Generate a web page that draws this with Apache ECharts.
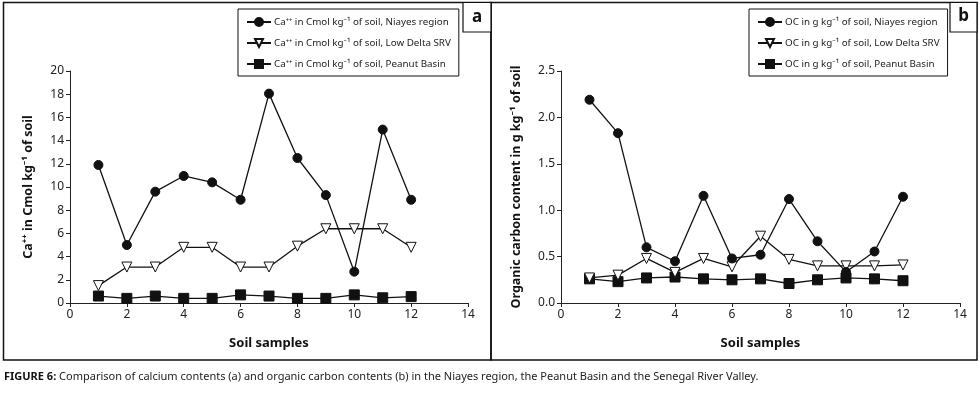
<!DOCTYPE html>
<html>
<head>
<meta charset="utf-8">
<script src="https://cdn.jsdelivr.net/npm/echarts@6/dist/echarts.min.js"></script>
<style>
  html, body { margin: 0; padding: 0; background: #fff; }
  #chart { width: 980px; height: 395px; }
</style>
</head>
<body>
<div id="chart"></div>
<script>
// soil sample numbers
const samples = [1, 2, 3, 4, 5, 6, 7, 8, 9, 10, 11, 12]

// (a) calcium, Cmol/kg
const caNiayes = [11.9, 5.0, 9.6, 10.95, 10.4, 8.9, 18.05, 12.5, 9.3, 2.7, 14.95, 8.9]
const caLowDelta = [1.5, 3.1, 3.1, 4.8, 4.8, 3.1, 3.1, 4.9, 6.4, 6.4, 6.4, 4.8]
const caPeanut = [0.6, 0.4, 0.6, 0.4, 0.4, 0.7, 0.6, 0.4, 0.4, 0.7, 0.45, 0.55]

// (b) organic carbon, g/kg
const ocNiayes = [2.19, 1.83, 0.6, 0.45, 1.155, 0.48, 0.52, 1.12, 0.665, 0.335, 0.555, 1.145]
const ocLowDelta = [0.27, 0.3, 0.48, 0.33, 0.48, 0.39, 0.72, 0.47, 0.4, 0.4, 0.4, 0.41]
const ocPeanut = [0.26, 0.23, 0.27, 0.28, 0.26, 0.25, 0.26, 0.21, 0.25, 0.27, 0.26, 0.24]

const xTicks = [0, 2, 4, 6, 8, 10, 12, 14]

const caNames = [
  'Ca\u207A\u207A in Cmol kg\u207B\u00B9 of soil, Niayes region',
  'Ca\u207A\u207A in Cmol kg\u207B\u00B9 of soil, Low Delta SRV',
  'Ca\u207A\u207A in Cmol kg\u207B\u00B9 of soil, Peanut Basin',
]
const ocNames = [
  'OC in g kg\u207B\u00B9 of soil, Niayes region',
  'OC in g kg\u207B\u00B9 of soil, Low Delta SRV',
  'OC in g kg\u207B\u00B9 of soil, Peanut Basin',
]

const FONT = "'Noto Sans', 'Liberation Sans', sans-serif"

const pairs = arr => samples.map((s, i) => [s, arr[i]])

const styles = [
  { symbol: 'circle', symbolSize: 9, symbolRotate: 0, itemStyle: { color: '#111', borderColor: '#111', borderWidth: 1 } },
  { symbol: 'triangle', symbolSize: 10, symbolRotate: 180, itemStyle: { color: '#fff', borderColor: '#111', borderWidth: 1 } },
  { symbol: 'rect', symbolSize: 10, symbolRotate: 0, itemStyle: { color: '#111', borderColor: '#111', borderWidth: 1 } },
]

function makeSeries(names, datas, idx) {
  return datas.map((d, i) => ({
    name: names[i],
    type: 'line',
    xAxisIndex: idx,
    yAxisIndex: idx,
    data: pairs(d),
    symbol: styles[i].symbol,
    symbolSize: styles[i].symbolSize,
    symbolRotate: styles[i].symbolRotate,
    showAllSymbol: true,
    lineStyle: { color: '#111', width: 1.3 },
    itemStyle: styles[i].itemStyle,
    z: 3 - i,
    animation: false,
  }))
}

function xAxisOpt(idx) {
  return {
    type: 'value',
    gridIndex: idx,
    min: 0,
    max: 14,
    interval: 2,
    splitLine: { show: false },
    axisLine: { lineStyle: { color: '#222', width: 1 } },
    axisTick: { lineStyle: { color: '#222' }, length: 4 },
    axisLabel: {
      color: '#222', fontSize: 12, fontFamily: FONT, margin: 6,
      formatter: v => (xTicks.includes(v) ? String(v) : ''),
    },
    name: 'Soil samples',
    nameLocation: 'middle',
    nameGap: 34,
    nameTextStyle: { fontSize: 13, fontWeight: 'bold', color: '#111', fontFamily: FONT },
  }
}

function yAxisOpt(idx, max, interval, name, fmt) {
  return {
    type: 'value',
    gridIndex: idx,
    min: 0,
    max: max,
    interval: interval,
    splitLine: { show: false },
    axisLine: { show: true, lineStyle: { color: '#222', width: 1 } },
    axisTick: { show: true, lineStyle: { color: '#222' }, length: 4 },
    axisLabel: { color: '#222', fontSize: 12, fontFamily: FONT, margin: 6, formatter: fmt },
    name: name,
    nameLocation: 'middle',
    nameRotate: 90,
    nameGap: idx === 0 ? 35 : 38,
    nameTextStyle: { fontSize: 12.5, fontWeight: 'bold', color: '#111', fontFamily: FONT },
  }
}

function legendOpt(names, left, fs) {
  return {
    data: names,
    orient: 'vertical',
    left: left,
    top: 9,
    padding: [8, 8, 7, 8],
    itemGap: 11,
    itemWidth: 24,
    itemHeight: 10,
    borderColor: '#111',
    borderWidth: 1,
    backgroundColor: '#fff',
    textStyle: { fontSize: fs, color: '#222', fontFamily: FONT, padding: [0, 0, 0, -2] },
  }
}

const chart = echarts.init(document.getElementById('chart'))

chart.setOption({
  backgroundColor: '#fff',
  animation: false,
  grid: [
    { left: 70, top: 71, width: 398, height: 232 },
    { left: 561, top: 71, width: 399, height: 232 },
  ],
  xAxis: [xAxisOpt(0), xAxisOpt(1)],
  yAxis: [
    yAxisOpt(0, 20, 2, 'Ca\u207A\u207A in Cmol kg\u207B\u00B9 of soil', v => String(v)),
    yAxisOpt(1, 2.5, 0.5, 'Organic carbon content in g kg\u207B\u00B9 of soil', v => v.toFixed(1)),
  ],
  legend: [legendOpt(caNames, 238, 9.8), legendOpt(ocNames, 749, 9.8)],
  series: [
    ...makeSeries(caNames, [caNiayes, caLowDelta, caPeanut], 0),
    ...makeSeries(ocNames, [ocNiayes, ocLowDelta, ocPeanut], 1),
  ],
  graphic: [
    // panel frames
    { type: 'rect', shape: { x: 3.5, y: 2.5, width: 487.5, height: 357.5 }, style: { fill: null, stroke: '#111', lineWidth: 1.5 }, z: -1 },
    { type: 'rect', shape: { x: 491, y: 2.5, width: 486, height: 357.5 }, style: { fill: null, stroke: '#111', lineWidth: 1.5 }, z: -1 },
    // panel letters
    { type: 'rect', shape: { x: 463, y: 2.5, width: 28, height: 29.5 }, style: { fill: '#fff', stroke: '#111', lineWidth: 1.2 } },
    { type: 'text', x: 477, y: 17, style: { text: 'a', fontSize: 17, fontWeight: 'bold', fill: '#111', fontFamily: FONT, align: 'center', verticalAlign: 'middle' } },
    { type: 'rect', shape: { x: 950, y: 2.5, width: 27, height: 29.5 }, style: { fill: '#fff', stroke: '#111', lineWidth: 1.2 } },
    { type: 'text', x: 963.5, y: 16, style: { text: 'b', fontSize: 17, fontWeight: 'bold', fill: '#111', fontFamily: FONT, align: 'center', verticalAlign: 'middle' } },
    // caption
    {
      type: 'text', x: 4, y: 377,
      style: {
        text: '{b|FIGURE 6:} Comparison of calcium contents (a) and organic carbon contents (b) in the Niayes region, the Peanut Basin and the Senegal River Valley.',
        rich: {
          b: { fontWeight: 'bold', fontSize: 11, fill: '#111', fontFamily: FONT },
        },
        fontSize: 11, fill: '#222', fontFamily: FONT, verticalAlign: 'middle',
      },
    },
  ],
})
</script>
</body>
</html>
